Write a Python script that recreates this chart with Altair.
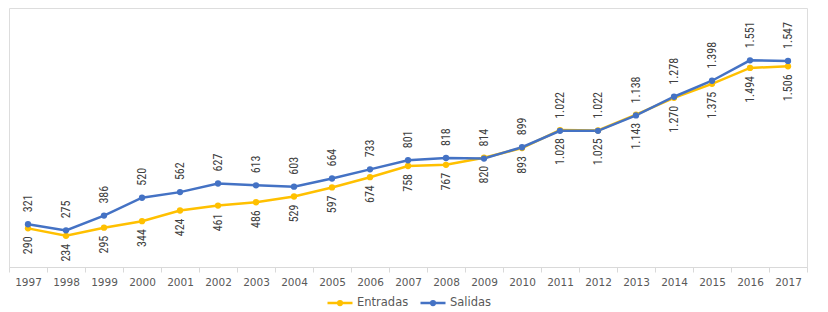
import altair as alt
import pandas as pd

years = [str(y) for y in range(1997, 2018)]
entradas = [290, 234, 295, 344, 424, 461, 486, 529, 597, 674, 758, 767, 820, 893,
            1028, 1025, 1143, 1270, 1375, 1494, 1506]
salidas = [321, 275, 386, 520, 562, 627, 613, 603, 664, 733, 801, 818, 814, 899,
           1022, 1022, 1138, 1278, 1398, 1551, 1547]
series = ["Entradas", "Salidas"]
colors = ["#FFC000", "#4472C4"]


def fmt(v):
    return f"{v:,}".replace(",", ".")


rows = []
for s, vals in zip(series, [entradas, salidas]):
    for yr, v in zip(years, vals):
        rows.append({"year": yr, "serie": s, "value": v, "label": fmt(v)})
df = pd.DataFrame(rows)

x = alt.X(
    "year:O",
    sort=years,
    scale=alt.Scale(type="band", paddingInner=0, paddingOuter=0),
    axis=alt.Axis(
        title=None, labelAngle=0, tickBand="extent",
        domainColor="#D9D9D9", tickColor="#D9D9D9", tickSize=5, domainWidth=1,
        labelColor="#595959", labelFontSize=10.5, labelFont="DejaVu Sans", labelPadding=5,
    ),
)
y = alt.Y("value:Q", scale=alt.Scale(domain=[0, 1944], nice=False, zero=True), axis=None)
color = alt.Color(
    "serie:N",
    scale=alt.Scale(domain=series, range=colors),
    legend=alt.Legend(
        title=None, orient="none", legendX=317, legendY=281, direction="horizontal",
        symbolType="M-1,0L1,0M-0.15,0A0.15,0.15 0 1,0 0.15,0A0.15,0.15 0 1,0 -0.15,0Z",
        symbolSize=625, symbolStrokeWidth=2.5, labelFontSize=11.5, labelFont="DejaVu Sans",
        labelColor="#595959", labelOffset=3, columnPadding=6,
    ),
)

base = alt.Chart(df).encode(x=x, y=y, color=color)
lines = base.mark_line(strokeWidth=2.5)
points = base.mark_point(filled=True, size=40, opacity=1)

tbase = alt.Chart(df).encode(x=x, y=y, text="label:N")
lab_s = tbase.transform_filter(alt.datum.serie == "Salidas").mark_text(
    angle=270, align="left", baseline="middle", dx=12, fontSize=12,
    font="Liberation Sans Narrow, Roboto Condensed, Lato", color="#404040")
lab_e = tbase.transform_filter(alt.datum.serie == "Entradas").mark_text(
    angle=270, align="right", baseline="middle", dx=-8, fontSize=12,
    font="Liberation Sans Narrow, Roboto Condensed, Lato", color="#404040")

chart = (lines + points + lab_s + lab_e).properties(
    width=798, height=259, padding={"left": 0, "top": 0, "right": 0, "bottom": 0}
).configure_view(stroke=None).configure(background="white")

chart.save("out.html", embed_options={"renderer": "svg", "actions": False})
